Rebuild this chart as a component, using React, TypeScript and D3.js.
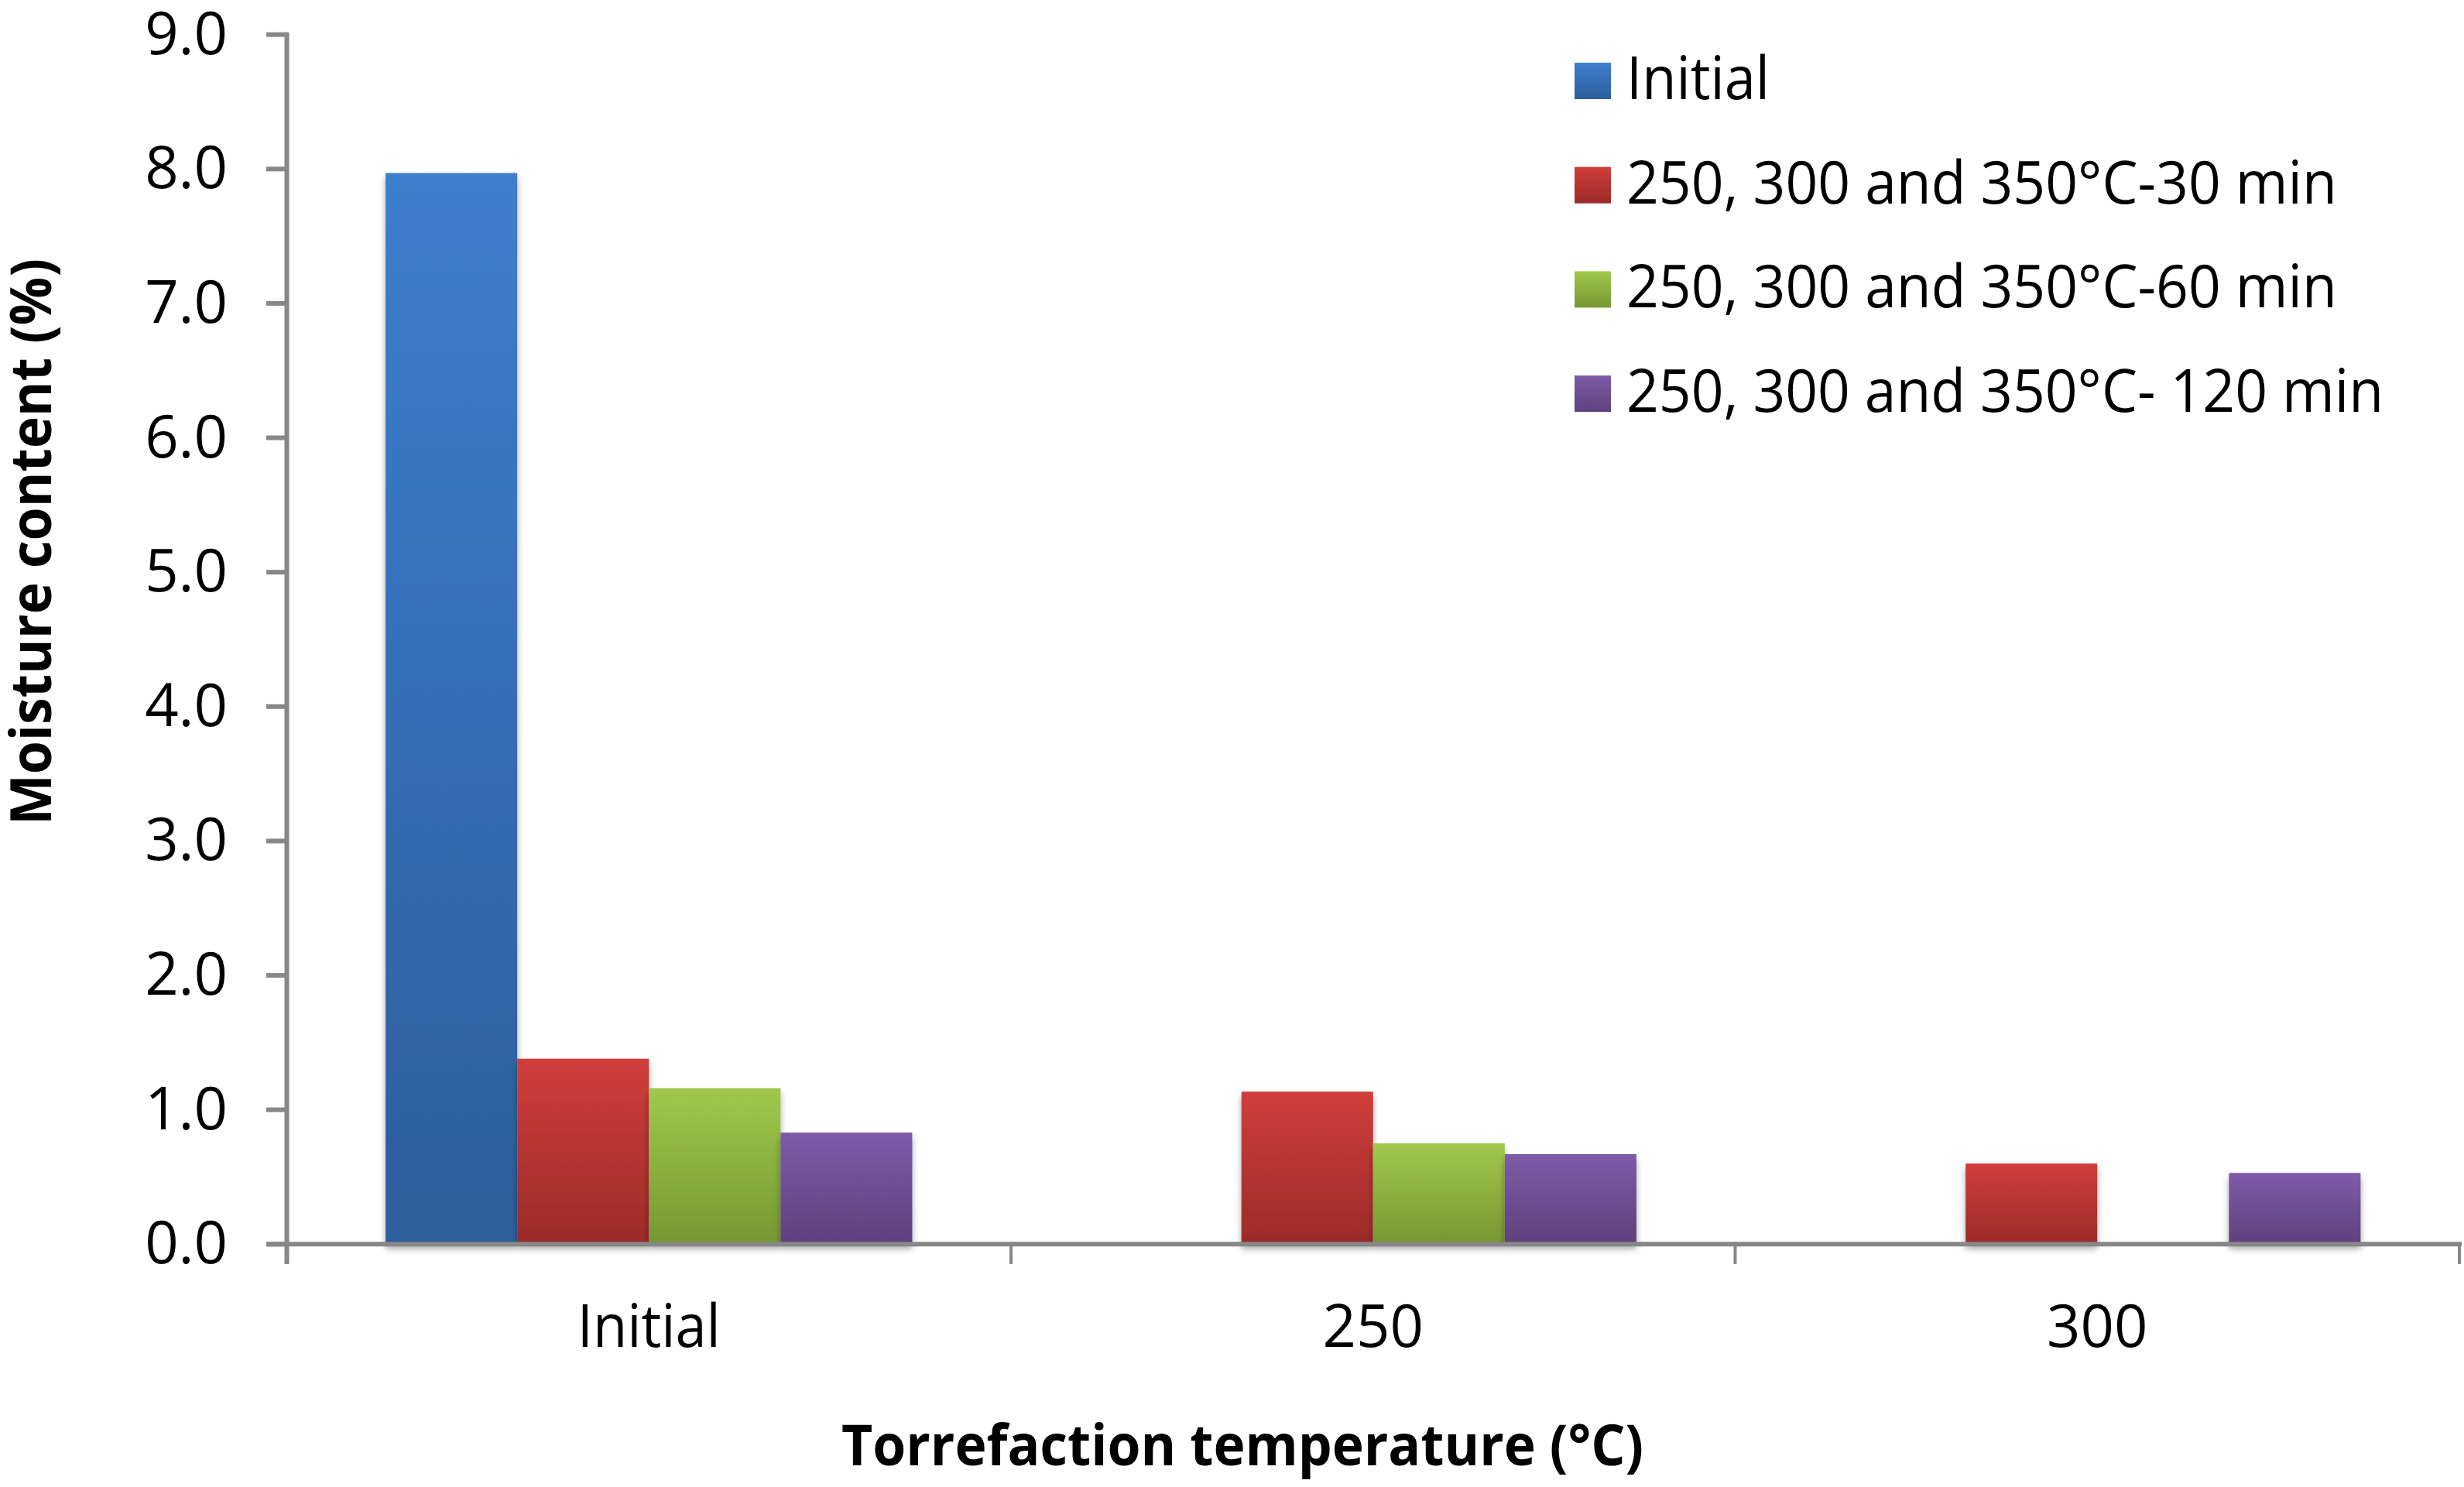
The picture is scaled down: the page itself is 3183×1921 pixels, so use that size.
import React from "react";
import * as d3 from "d3";

// ---- data ----
const categories = ["Initial", "250", "300"];
const seriesNames = [
  "Initial",
  "250, 300 and 350°C-30 min",
  "250, 300 and 350°C-60 min",
  "250, 300 and 350°C- 120 min",
];
const initialValues: (number | null)[] = [7.97, null, null];
const min30Values: (number | null)[] = [1.38, 1.135, 0.6];
const min60Values: (number | null)[] = [1.16, 0.75, null];
const min120Values: (number | null)[] = [0.83, 0.67, 0.53];
const yTickValues = [0, 1, 2, 3, 4, 5, 6, 7, 8, 9];
const xTitle = "Torrefaction temperature (°C)";
const yTitle = "Moisture content (%)";

// ---- styles ----
const gradTop = ["#3D7ECD", "#D03E3B", "#A1C84B", "#7E5BA8"];
const gradBottom = ["#2D5E9C", "#9B2B29", "#76973 2".replace(" ", ""), "#5D417C"];
const legendTextWidths = [185, 918, 918, 978];

const W = 3183;
const H = 1921;
const plotLeft = 370.5;
const plotRight = 3177;
const yZero = 1607.3;
const yTop = 44.7;
const axisColor = "#878787";
const FONT = "'Open Sans', 'Noto Sans', sans-serif";

export default function App() {
  const allSeries = [initialValues, min30Values, min60Values, min120Values];

  const y = d3.scaleLinear().domain([0, 9]).range([yZero, yTop]);
  const x0 = d3.scaleBand<string>().domain(categories).range([plotLeft, plotRight]).padding(0);
  const step = x0.bandwidth();
  const barW = step / (seriesNames.length + 1.5);
  const groupW = barW * seriesNames.length;
  const x1 = d3
    .scaleBand<string>()
    .domain(seriesNames)
    .range([(step - groupW) / 2, (step + groupW) / 2])
    .padding(0);

  const fmt = d3.format(".1f");

  const bars: React.ReactNode[] = [];
  allSeries.forEach((vals, si) => {
    vals.forEach((v, ci) => {
      if (v === null || v === undefined) return;
      const bx = (x0(categories[ci]) as number) + (x1(seriesNames[si]) as number);
      const by = y(v);
      bars.push(
        <rect
          key={`b-${si}-${ci}`}
          x={bx}
          y={by}
          width={x1.bandwidth()}
          height={yZero - by}
          fill={`url(#grad${si})`}
          filter="url(#shadow)"
        />
      );
    });
  });

  const legendX = 2034;
  const legendY0 = 81;
  const legendStep = 134.7;
  const sq = 47;

  return (
    <svg
      width={W}
      height={H}
      viewBox={`0 0 ${W} ${H}`}
      style={{ position: "absolute", left: 0, top: 0, display: "block", background: "#fff" }}
    >
      <defs>
        {gradTop.map((c, i) => (
          <linearGradient key={i} id={`grad${i}`} x1="0" y1="0" x2="0" y2="1">
            <stop offset="0%" stopColor={c} />
            <stop offset="100%" stopColor={gradBottom[i]} />
          </linearGradient>
        ))}
        <filter id="shadow" x="-20%" y="-20%" width="140%" height="140%">
          <feGaussianBlur in="SourceAlpha" stdDeviation="4" />
          <feOffset dx="0" dy="6" result="ob" />
          <feComponentTransfer>
            <feFuncA type="linear" slope="0.35" />
          </feComponentTransfer>
          <feMerge>
            <feMergeNode />
            <feMergeNode in="SourceGraphic" />
          </feMerge>
        </filter>
      </defs>
      <rect x={0} y={0} width={W} height={H} fill="#fff" />

      {bars}

      {/* y axis */}
      <line x1={plotLeft} x2={plotLeft} y1={yTop - 3} y2={1633} stroke={axisColor} strokeWidth={6} />
      {yTickValues.map((t) => (
        <g key={`yt${t}`}>
          <line x1={344} x2={plotLeft} y1={y(t)} y2={y(t)} stroke={axisColor} strokeWidth={6} />
          <text
            x={294}
            y={y(t) + 25}
            textAnchor="end"
            fontFamily={FONT}
            fontSize={76}
            fill="#000"
          >
            {fmt(t)}
          </text>
        </g>
      ))}

      {/* x axis */}
      <line x1={344} x2={plotRight + 3} y1={yZero} y2={yZero} stroke={axisColor} strokeWidth={6} />
      {[...categories.map((c) => x0(c) as number), plotRight].map((tx, i) => (
        <line key={`xt${i}`} x1={tx} x2={tx} y1={yZero} y2={1633} stroke={axisColor} strokeWidth={4} />
      ))}
      {categories.map((c) => {
        const cx = (x0(c) as number) + step / 2;
        const isText = isNaN(Number(c));
        return (
          <text
            key={`xl${c}`}
            x={cx}
            y={1740}
            textAnchor="middle"
            fontFamily={FONT}
            fontSize={76}
            fill="#000"
            {...(isText ? { textLength: 185, lengthAdjust: "spacingAndGlyphs" } : {})}
          >
            {c}
          </text>
        );
      })}

      {/* axis titles */}
      <text
        x={1087}
        y={1893}
        fontFamily={FONT}
        fontWeight={700}
        fontSize={74}
        fill="#000"
        textLength={1036}
        lengthAdjust="spacingAndGlyphs"
      >
        {xTitle}
      </text>
      <text
        transform={`translate(66, 700) rotate(-90)`}
        x={0}
        y={0}
        textAnchor="middle"
        fontFamily={FONT}
        fontWeight={700}
        fontSize={74}
        fill="#000"
        textLength={732}
        lengthAdjust="spacingAndGlyphs"
      >
        {yTitle}
      </text>

      {/* legend */}
      {seriesNames.map((s, i) => {
        const ly = legendY0 + i * legendStep;
        return (
          <g key={`lg${i}`}>
            <rect x={legendX} y={ly} width={sq} height={sq} fill={`url(#grad${i})`} />
            <text
              x={2101}
              y={ly + sq}
              fontFamily={FONT}
              fontSize={76}
              fill="#000"
              textLength={legendTextWidths[i]}
              lengthAdjust="spacingAndGlyphs"
            >
              {s}
            </text>
          </g>
        );
      })}
    </svg>
  );
}
